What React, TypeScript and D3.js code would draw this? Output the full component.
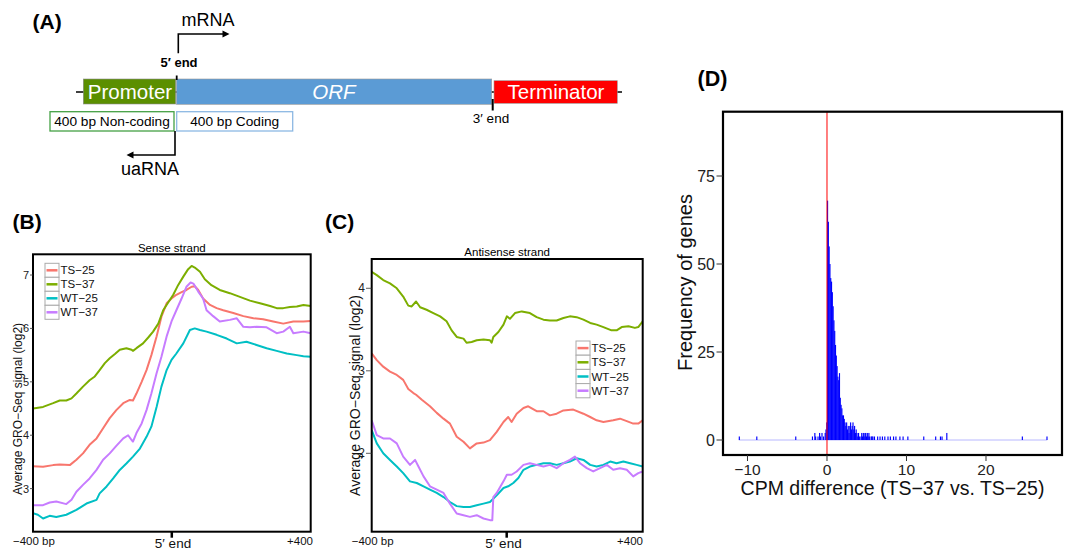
import React from "react";
import * as d3 from "d3";

const FONT = "'Liberation Sans', Arial, Helvetica, sans-serif";

// ---------- shared legend ----------
const seriesNames = ["TS−25", "TS−37", "WT−25", "WT−37"];
const seriesColors = ["#F8766D", "#7CAE00", "#00BFC4", "#C77CFF"];

// ---------- Panel B: sense strand (bp, log2 signal) ----------
const senseTS25: [number, number][] = [[-400,3.42],[-371,3.41],[-342,3.44],[-323,3.45],[-294,3.44],[-275,3.54],[-256,3.66],[-237,3.82],[-217,3.94],[-198,4.13],[-179,4.32],[-160,4.47],[-140,4.60],[-121,4.66],[-112,4.65],[-102,4.78],[-87,5.00],[-73,5.22],[-59,5.50],[-44,5.85],[-30,6.22],[-15,6.47],[-1,6.56],[13,6.63],[28,6.68],[42,6.72],[57,6.78],[66,6.79],[76,6.72],[90,6.56],[110,6.44],[129,6.38],[148,6.34],[177,6.29],[206,6.23],[235,6.19],[263,6.17],[292,6.13],[321,6.09],[350,6.13],[379,6.13],[400,6.14]];
const senseTS37: [number, number][] = [[-400,4.50],[-371,4.53],[-342,4.60],[-323,4.65],[-304,4.65],[-289,4.69],[-275,4.78],[-256,4.91],[-237,5.03],[-222,5.10],[-208,5.22],[-193,5.35],[-179,5.44],[-164,5.52],[-150,5.60],[-131,5.63],[-116,5.60],[-112,5.58],[-102,5.63],[-83,5.72],[-68,5.83],[-54,5.94],[-39,6.09],[-25,6.34],[-11,6.48],[4,6.63],[18,6.81],[33,6.97],[47,7.11],[57,7.17],[66,7.14],[81,7.06],[95,6.92],[114,6.81],[138,6.72],[167,6.66],[196,6.59],[225,6.52],[254,6.47],[283,6.42],[302,6.38],[321,6.38],[340,6.40],[360,6.41],[379,6.44],[400,6.42]];
const senseWT25: [number, number][] = [[-400,2.54],[-386,2.51],[-371,2.44],[-352,2.49],[-333,2.47],[-304,2.51],[-275,2.60],[-246,2.72],[-217,2.79],[-208,2.91],[-188,3.04],[-169,3.19],[-150,3.35],[-131,3.47],[-112,3.60],[-92,3.75],[-73,3.97],[-59,4.16],[-44,4.53],[-30,4.91],[-15,5.22],[-1,5.41],[13,5.53],[33,5.72],[52,5.97],[66,6.00],[81,5.97],[100,5.94],[129,5.88],[158,5.81],[187,5.72],[215,5.75],[244,5.69],[273,5.63],[302,5.58],[331,5.53],[360,5.50],[379,5.48],[400,5.47]];
const senseWT37: [number, number][] = [[-400,2.69],[-371,2.69],[-352,2.74],[-333,2.76],[-304,2.71],[-289,2.79],[-275,2.94],[-256,3.07],[-237,3.19],[-217,3.35],[-198,3.54],[-179,3.66],[-160,3.80],[-140,3.94],[-126,4.00],[-116,3.91],[-112,3.88],[-102,4.04],[-87,4.22],[-73,4.47],[-59,4.78],[-44,5.16],[-30,5.47],[-15,5.85],[-1,6.13],[13,6.34],[28,6.56],[42,6.78],[54,6.86],[62,6.84],[76,6.69],[90,6.56],[100,6.34],[119,6.23],[138,6.13],[167,6.16],[187,6.19],[206,6.03],[225,6.02],[244,6.03],[273,6.02],[302,5.91],[321,5.94],[340,6.03],[350,5.91],[379,5.94],[400,5.91]];
const senseTicks = [3, 4, 5, 6, 7];

// ---------- Panel C: antisense strand ----------
const antiTS25: [number, number][] = [[-400,3.21],[-385,3.13],[-366,3.05],[-346,2.99],[-326,2.95],[-307,2.89],[-292,2.78],[-277,2.73],[-269,2.71],[-252,2.65],[-228,2.57],[-208,2.49],[-188,2.42],[-169,2.36],[-149,2.20],[-129,2.14],[-110,2.06],[-90,2.12],[-70,2.13],[-51,2.16],[-31,2.26],[-11,2.38],[3,2.44],[13,2.38],[28,2.48],[48,2.55],[62,2.57],[87,2.51],[107,2.51],[126,2.46],[146,2.48],[166,2.52],[195,2.53],[225,2.48],[245,2.44],[264,2.40],[284,2.38],[313,2.40],[333,2.42],[353,2.39],[372,2.36],[387,2.36],[400,2.40]];
const antiTS37: [number, number][] = [[-400,4.20],[-385,4.16],[-366,4.10],[-346,4.06],[-326,4.00],[-307,3.90],[-292,3.79],[-282,3.78],[-269,3.84],[-257,3.77],[-238,3.74],[-218,3.70],[-198,3.66],[-179,3.60],[-164,3.49],[-149,3.41],[-129,3.39],[-120,3.34],[-105,3.35],[-90,3.37],[-70,3.38],[-51,3.37],[-46,3.34],[-41,3.41],[-26,3.47],[-11,3.56],[-1,3.66],[8,3.63],[23,3.70],[43,3.72],[67,3.70],[87,3.65],[107,3.62],[126,3.61],[146,3.61],[166,3.64],[185,3.66],[205,3.65],[225,3.62],[245,3.58],[264,3.56],[284,3.53],[308,3.49],[323,3.49],[338,3.53],[358,3.54],[377,3.52],[387,3.53],[400,3.60]];
const antiWT25: [number, number][] = [[-400,2.28],[-385,2.12],[-366,2.00],[-346,1.92],[-326,1.84],[-307,1.76],[-287,1.66],[-267,1.64],[-247,1.60],[-228,1.56],[-208,1.52],[-188,1.47],[-169,1.41],[-149,1.36],[-129,1.35],[-110,1.35],[-90,1.37],[-70,1.39],[-51,1.41],[-31,1.49],[-11,1.58],[3,1.60],[18,1.64],[33,1.70],[48,1.80],[67,1.84],[87,1.86],[107,1.88],[126,1.88],[146,1.86],[166,1.88],[185,1.90],[205,1.94],[225,1.92],[245,1.86],[264,1.84],[284,1.86],[304,1.90],[323,1.88],[343,1.90],[363,1.88],[382,1.86],[400,1.84]];
const antiWT37: [number, number][] = [[-400,2.40],[-385,2.22],[-366,2.18],[-346,2.18],[-326,2.12],[-307,1.96],[-287,1.86],[-272,1.92],[-262,1.84],[-247,1.72],[-228,1.60],[-208,1.56],[-188,1.52],[-169,1.39],[-149,1.27],[-129,1.25],[-110,1.23],[-90,1.25],[-70,1.21],[-51,1.19],[-44,1.19],[-41,1.47],[-31,1.52],[-11,1.66],[-1,1.74],[13,1.74],[28,1.78],[48,1.86],[67,1.88],[87,1.86],[107,1.84],[126,1.86],[146,1.82],[166,1.88],[185,1.92],[200,1.96],[215,1.88],[235,1.82],[254,1.78],[274,1.82],[294,1.86],[313,1.80],[333,1.82],[353,1.80],[372,1.72],[387,1.76],[400,1.78]];
const antiTicks = [2, 3, 4];

// ---------- Panel D: histogram of CPM difference ----------
const histBinWidth = 0.1;
const histBinStarts = [-11.1,-8.9,-4.0,-1.9,-1.6,-1.5,-1.2,-1.0,-0.9,-0.7,-0.5,-0.3,-0.2,-0.1,
  0.0,0.1,0.2,0.3,0.4,0.5,0.6,0.7,0.8,0.9,1.0,1.1,1.2,1.3,1.4,1.5,1.6,1.7,1.8,1.9,
  2.0,2.1,2.2,2.3,2.4,2.5,2.6,2.7,2.8,2.9,3.0,3.1,3.2,3.3,3.4,3.5,3.6,3.7,3.8,3.9,
  4.0,4.2,4.3,4.4,4.5,4.6,4.7,4.8,4.9,5.0,5.1,5.2,5.3,5.5,5.6,5.7,5.9,
  6.3,6.6,6.9,7.2,7.6,7.9,8.3,8.6,9.1,9.5,10.1,12.1,13.6,14.2,14.4,15.0,24.5,27.6];
const histCounts = [1,1,1,1,2,1,1,2,1,2,1,2,3,5,
  68,62,55,50,46,45,42,38,34,31,27,24,21,18,17,19,12,10,9,7,
  7,6,5,4,5,3,4,2,4,5,3,4,5,3,4,2,3,2,1,2,
  1,1,2,1,2,1,2,2,1,2,1,2,1,1,1,1,1,
  1,1,1,1,1,1,1,1,1,1,1,1,1,1,1,2,1,1];
const histXTicks = [-10, 0, 10, 20];
const histYTicks = [0, 25, 50, 75];

// ---------- Panel A labels ----------
const geneParts = ["Promoter", "ORF", "Terminator"];
const regionBoxes = ["400 bp Non-coding", "400 bp Coding"];

type Box = { x0: number; x1: number; y0: number; y1: number };

function ProfilePanel(props: {
  id: string; box: Box; yDomain: [number, number]; ticks: number[];
  series: [number, number][][]; title: string; titleY: number;
  tickFont: number; tickLabelEnd: number; ylabFont: number; ylabX: number; ylabY: number;
  legendX: number; legendY: number; legendRow: number;
  leftLabelX: number; rightLabelX: number; endLabelX: number; endTickX: number;
}) {
  const { box } = props;
  const x = d3.scaleLinear().domain([-400, 400]).range([box.x0, box.x1]);
  const y = d3.scaleLinear().domain(props.yDomain).range([box.y1, box.y0]);
  const line = d3.line<[number, number]>().x(d => x(d[0])).y(d => y(d[1]));
  const cx = (box.x0 + box.x1) / 2;
  return (
    <g>
      <defs>
        <clipPath id={props.id}>
          <rect x={box.x0} y={box.y0} width={box.x1 - box.x0} height={box.y1 - box.y0} />
        </clipPath>
      </defs>
      <text x={cx} y={props.titleY} fontSize={11.5} textAnchor="middle" fontFamily={FONT}>{props.title}</text>
      <g clipPath={`url(#${props.id})`}>
        {props.series.map((s, i) => (
          <path key={i} d={line(s) || ""} fill="none" stroke={seriesColors[i]} strokeWidth={2} strokeLinejoin="round" />
        ))}
      </g>
      <rect x={box.x0} y={box.y0} width={box.x1 - box.x0} height={box.y1 - box.y0} fill="none" stroke="#000" strokeWidth={2} />
      {props.ticks.map(t => (
        <g key={t}>
          <line x1={props.tickLabelEnd + 1} x2={box.x0} y1={y(t)} y2={y(t)} stroke="#333" strokeWidth={0.8} />
          <text x={props.tickLabelEnd} y={y(t) + 4} fontSize={props.tickFont} textAnchor="end" fontFamily={FONT} fill="#222">{t}</text>
        </g>
      ))}
      <text transform={`translate(${props.ylabX},${props.ylabY}) rotate(-90)`} fontSize={props.ylabFont} textAnchor="middle" dominantBaseline="central" fontFamily={FONT} fill="#111">
        Average GRO−Seq signal (log2)
      </text>
      {seriesNames.map((n, i) => {
        const ry = props.legendY + i * props.legendRow;
        return (
          <g key={n}>
            <rect x={props.legendX} y={ry} width={14} height={props.legendRow} fill="#fff" stroke="#aaa" strokeWidth={1} />
            <line x1={props.legendX + 1.5} x2={props.legendX + 12.5} y1={ry + props.legendRow / 2} y2={ry + props.legendRow / 2} stroke={seriesColors[i]} strokeWidth={2.5} />
            <text x={props.legendX + 15.5} y={ry + props.legendRow / 2 + 4} fontSize={11.5} fontFamily={FONT} fill="#111">{n}</text>
          </g>
        );
      })}
      <line x1={props.endTickX} x2={props.endTickX} y1={box.y1} y2={box.y1 + 6} stroke="#000" strokeWidth={2.5} />
      <text x={props.leftLabelX} y={545} fontSize={11.5} fontFamily={FONT} fill="#111">−400 bp</text>
      <text x={props.rightLabelX} y={545} fontSize={11.5} textAnchor="end" fontFamily={FONT} fill="#111">+400</text>
      <text x={props.endLabelX} y={548} fontSize={13.5} textAnchor="middle" fontFamily={FONT} fill="#111">5′ end</text>
    </g>
  );
}

function HistPanel() {
  const box: Box = { x0: 723, x1: 1062, y0: 111.7, y1: 455 };
  const x = d3.scaleLinear().domain([-13.08, 29.56]).range([box.x0, box.x1]);
  const y = d3.scaleLinear().domain([-4.26, 93.27]).range([box.y1, box.y0]);
  const minX = d3.min(histBinStarts) as number;
  const maxX = (d3.max(histBinStarts) as number) + histBinWidth;
  return (
    <g>
      <text x={697.5} y={86} fontSize={21.5} fontWeight="bold" fontFamily={FONT}>(D)</text>
      <line x1={x(minX)} x2={x(maxX)} y1={y(0)} y2={y(0)} stroke="#b8b8ff" strokeWidth={1} />
      {histBinStarts.map((s, i) => (
        <rect key={i} x={x(s)} y={y(histCounts[i])} width={x(s + histBinWidth) - x(s) + 0.35} height={y(0) - y(histCounts[i])} fill="#0000FF" />
      ))}
      <line x1={x(0)} x2={x(0)} y1={box.y0} y2={box.y1} stroke="#FF0000" strokeWidth={1} />
      <rect x={box.x0} y={box.y0} width={box.x1 - box.x0} height={box.y1 - box.y0} fill="none" stroke="#000" strokeWidth={2.2} />
      {histYTicks.map(t => (
        <g key={t}>
          <line x1={716.5} x2={box.x0} y1={y(t)} y2={y(t)} stroke="#333" strokeWidth={1} />
          <text x={715} y={y(t) + 5.5} fontSize={16} textAnchor="end" fontFamily={FONT} fill="#222">{t}</text>
        </g>
      ))}
      {histXTicks.map(t => (
        <g key={t}>
          <line x1={x(t)} x2={x(t)} y1={box.y1} y2={box.y1 + 6} stroke="#333" strokeWidth={1} />
          <text x={x(t)} y={474.5} fontSize={15.5} textAnchor="middle" fontFamily={FONT} fill="#222">{t < 0 ? `−${-t}` : `${t}`}</text>
        </g>
      ))}
      <text x={892.5} y={495} fontSize={19.5} textAnchor="middle" fontFamily={FONT} fill="#111">CPM difference (TS−37 vs. TS−25)</text>
      <text transform="translate(685,282.5) rotate(-90)" fontSize={20} textAnchor="middle" dominantBaseline="central" fontFamily={FONT} fill="#111">Frequency of genes</text>
    </g>
  );
}

function Arrow({ d, tip, dir }: { d: string; tip: [number, number]; dir: "right" | "left" }) {
  const [tx, ty] = tip;
  const pts = dir === "right"
    ? `${tx},${ty} ${tx - 7},${ty - 3.5} ${tx - 7},${ty + 3.5}`
    : `${tx},${ty} ${tx + 7},${ty - 3.5} ${tx + 7},${ty + 3.5}`;
  return (
    <g>
      <path d={d} fill="none" stroke="#000" strokeWidth={1.6} />
      <polygon points={pts} fill="#000" />
    </g>
  );
}

function GeneDiagram() {
  return (
    <g fontFamily={FONT}>
      <text x={32.5} y={29} fontSize={21} fontWeight="bold">(A)</text>
      <text x={181.5} y={26} fontSize={18}>mRNA</text>
      <Arrow d="M178.3,53.3 V34 H224" tip={[229.5, 34]} dir="right" />
      <text x={179} y={66.5} fontSize={13} fontWeight="bold" textAnchor="middle">5′ end</text>
      <line x1={76} x2={622} y1={92} y2={92} stroke="#000" strokeWidth={1.6} />
      <rect x={83.3} y={79} width={92.4} height={25} fill="#5B8F00" stroke="#8a8a8a" strokeWidth={0.6} />
      <rect x={176.5} y={79} width={315.2} height={25.3} fill="#5B9BD5" stroke="#9a9a9a" strokeWidth={0.6} />
      <rect x={494} y={80.7} width={123.3} height={22.6} fill="#FF0000" stroke="#9a9a9a" strokeWidth={0.6} />
      <text x={130} y={99} fontSize={20.5} fill="#fff" textAnchor="middle">{geneParts[0]}</text>
      <text x={334} y={99} fontSize={20.5} fill="#fff" textAnchor="middle" fontStyle="italic">{geneParts[1]}</text>
      <text x={556} y={99} fontSize={20.5} fill="#fff" textAnchor="middle">{geneParts[2]}</text>
      <line x1={176.7} x2={176.7} y1={75.5} y2={80} stroke="#000" strokeWidth={1.8} />
      <line x1={492.7} x2={492.7} y1={99} y2={110.5} stroke="#000" strokeWidth={2} />
      <text x={491} y={123.3} fontSize={13.5} textAnchor="middle">3′ end</text>
      <rect x={50} y={111.7} width={124} height={19.3} fill="#fff" stroke="#44A044" strokeWidth={1.3} />
      <rect x={176.7} y={111.7} width={116} height={19.3} fill="#fff" stroke="#8DB8E3" strokeWidth={1.3} />
      <text x={112} y={126} fontSize={13.7} textAnchor="middle">{regionBoxes[0]}</text>
      <text x={234.7} y={126} fontSize={13.7} textAnchor="middle">{regionBoxes[1]}</text>
      <Arrow d="M175,131 V155 H132" tip={[126.5, 155]} dir="left" />
      <text x={150} y={175} fontSize={18} textAnchor="middle">uaRNA</text>
    </g>
  );
}

export default function App() {
  return (
    <svg width={1068} height={552} viewBox="0 0 1068 552" style={{ position: "fixed", left: 0, top: 0, background: "#fff" }}>
      <rect x={0} y={0} width={1068} height={552} fill="#fff" />
      <GeneDiagram />
      <text x={12.5} y={228.5} fontSize={21} fontWeight="bold" fontFamily={FONT}>(B)</text>
      <text x={325} y={228.5} fontSize={21} fontWeight="bold" fontFamily={FONT}>(C)</text>
      <ProfilePanel id="clipB" box={{ x0: 33, x1: 310.7, y0: 254.3, y1: 531.7 }} yDomain={[2.193, 7.388]} ticks={senseTicks}
        series={[senseTS25, senseTS37, senseWT25, senseWT37]} title="Sense strand" titleY={251.5}
        tickFont={11} tickLabelEnd={29} ylabFont={12} ylabX={18.3} ylabY={409}
        legendX={45} legendY={263.3} legendRow={14}
        leftLabelX={13} rightLabelX={313} endLabelX={173} endTickX={171.8} />
      <ProfilePanel id="clipC" box={{ x0: 371.7, x1: 642.7, y0: 259, y1: 531.7 }} yDomain={[1.05, 4.355]} ticks={antiTicks}
        series={[antiTS25, antiTS37, antiWT25, antiWT37]} title="Antisense strand" titleY={255.5}
        tickFont={12} tickLabelEnd={365} ylabFont={14} ylabX={355} ylabY={395.5}
        legendX={576} legendY={341} legendRow={14.2}
        leftLabelX={351.7} rightLabelX={643} endLabelX={503.5} endTickX={506.7} />
      <HistPanel />
    </svg>
  );
}
